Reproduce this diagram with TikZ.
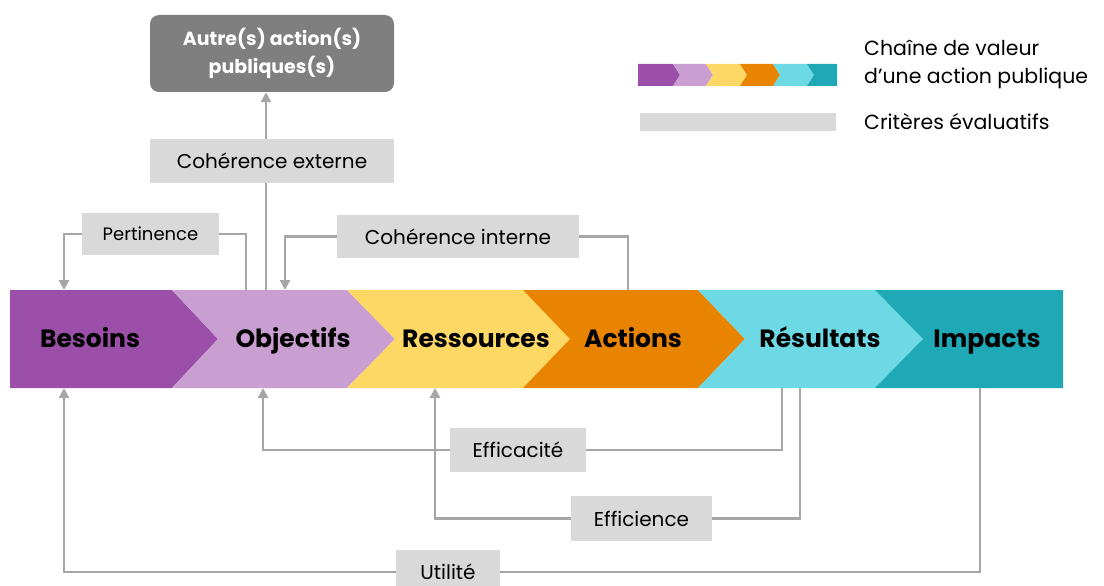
\documentclass[tikz,border=0pt]{standalone}
\usepackage{fontspec}
\setmainfont{Poppins}
\usetikzlibrary{arrows.meta}
\definecolor{cBes}{HTML}{9B4FA8}
\definecolor{cObj}{HTML}{C99FD2}
\definecolor{cRes}{HTML}{FDD865}
\definecolor{cAct}{HTML}{E88400}
\definecolor{cRsl}{HTML}{6CD9E5}
\definecolor{cImp}{HTML}{1FA8B5}
\definecolor{critgray}{HTML}{D9D9D9}
\definecolor{conn}{HTML}{A6A6A6}
\definecolor{darkbox}{HTML}{7F7F7F}
\begin{document}
\begin{tikzpicture}[x=1pt,y=-1pt,
  critbox/.style={fill=critgray, inner sep=0pt, text=black, font=\fontsize{20}{24}\selectfont},
  link/.style={draw=conn, line width=2.5pt, -{Triangle[length=10pt,width=10pt]}},
  plain/.style={draw=conn, line width=2.5pt},
  stage/.style={font=\bfseries\fontsize{25}{30}\selectfont, text=black, inner sep=0pt, anchor=base},
  legtext/.style={font=\fontsize{20.5}{28}\selectfont, text=black, inner sep=0pt, align=left, anchor=west}]
\useasboundingbox (0,0) rectangle (1104,586);
\clip (0,0) rectangle (1104,586);

% value chain band
\fill[cBes] (10,290) -- (172,290) -- (218,339) -- (172,388) -- (10,388) -- cycle;
\fill[cObj] (172,290) -- (347,290) -- (395,339) -- (347,388) -- (172,388) -- (218,339) -- cycle;
\fill[cRes] (347,290) -- (523,290) -- (570,339) -- (523,388) -- (347,388) -- (395,339) -- cycle;
\fill[cAct] (523,290) -- (698,290) -- (745,339) -- (698,388) -- (523,388) -- (570,339) -- cycle;
\fill[cRsl] (698,290) -- (875,290) -- (923,339) -- (875,388) -- (698,388) -- (745,339) -- cycle;
\fill[cImp] (875,290) -- (1063,290) -- (1063,388) -- (875,388) -- (923,339) -- cycle;

\node[stage] (bes) at (90,347) {Besoins};
\node[stage] (obj) at (293,347) {Objectifs};
\node[stage] (res) at (476,347) {Ressources};
\node[stage] (act) at (633,347) {Actions};
\node[stage] (rsl) at (820,347) {Résultats};
\node[stage] (imp) at (987,347) {Impacts};

% anchor points on the band
\coordinate (besT) at (64,290);
\coordinate (objTp) at (246,290);
\coordinate (objTe) at (266,290);
\coordinate (objTi) at (285,290);
\coordinate (actT) at (628,290);
\coordinate (besB) at (64,388);
\coordinate (objB) at (263,388);
\coordinate (resB) at (435,388);
\coordinate (rslBa) at (782,388);
\coordinate (rslBb) at (800,388);
\coordinate (impB) at (980,388);

% other public actions
\node[fill=darkbox, rounded corners=9pt, minimum width=244pt, minimum height=77pt, inner sep=0pt,
      text=white, font=\bfseries\fontsize{19}{28}\selectfont, align=center]
  (autre) at (272,53.5) {Autre(s) action(s)\\publiques(s)};

% criteria boxes
\node[critbox, minimum width=244pt, minimum height=44pt] (cohext) at (272,161) {Cohérence externe};
\node[critbox, minimum width=137pt, minimum height=42pt, font=\fontsize{18}{22}\selectfont] (pert) at (150.5,234) {Pertinence};
\node[critbox, minimum width=242pt, minimum height=43pt] (cohint) at (458,236.5) {Cohérence interne};
\node[critbox, minimum width=136pt, minimum height=44pt] (effca) at (518,450) {Efficacité};
\node[critbox, minimum width=141pt, minimum height=45pt] (effce) at (641.5,518.5) {Efficience};
\node[critbox, minimum width=104pt, minimum height=44pt] (util) at (448,572) {Utilité};

% connectors
\draw[plain] (objTe) -- (objTe |- cohext.south);
\draw[link] (objTe |- cohext.north) -- (objTe |- autre.south);
\draw[plain] (objTp) |- (pert.east);
\draw[link] (pert.west) -| (besT);
\draw[plain] (actT) |- (cohint.east);
\draw[link] (cohint.west) -| (objTi);
\draw[plain] (rslBa) |- (effca.east);
\draw[link] (effca.west) -| (objB);
\draw[plain] (rslBb) |- (effce.east);
\draw[link] (effce.west) -| (resB);
\draw[plain] (impB) |- (util.east);
\draw[link] (util.west) -| (besB);

% legend
\fill[cBes] (638,64) -- (673,64) -- (680,75) -- (673,86) -- (638,86) -- cycle;
\fill[cObj] (673,64) -- (706,64) -- (713,75) -- (706,86) -- (673,86) -- (680,75) -- cycle;
\fill[cRes] (706,64) -- (740,64) -- (747,75) -- (740,86) -- (706,86) -- (713,75) -- cycle;
\fill[cAct] (740,64) -- (773,64) -- (780,75) -- (773,86) -- (740,86) -- (747,75) -- cycle;
\fill[cRsl] (773,64) -- (807,64) -- (814,75) -- (807,86) -- (773,86) -- (780,75) -- cycle;
\fill[cImp] (807,64) -- (837,64) -- (837,86) -- (807,86) -- (814,75) -- cycle;
\fill[critgray] (640,113) rectangle (836,131);
\node[legtext] (legA) at (864,64) {Chaîne de valeur\\d’une action publique};
\node[legtext] (legB) at (864,122) {Critères évaluatifs};
\end{tikzpicture}
\end{document}
